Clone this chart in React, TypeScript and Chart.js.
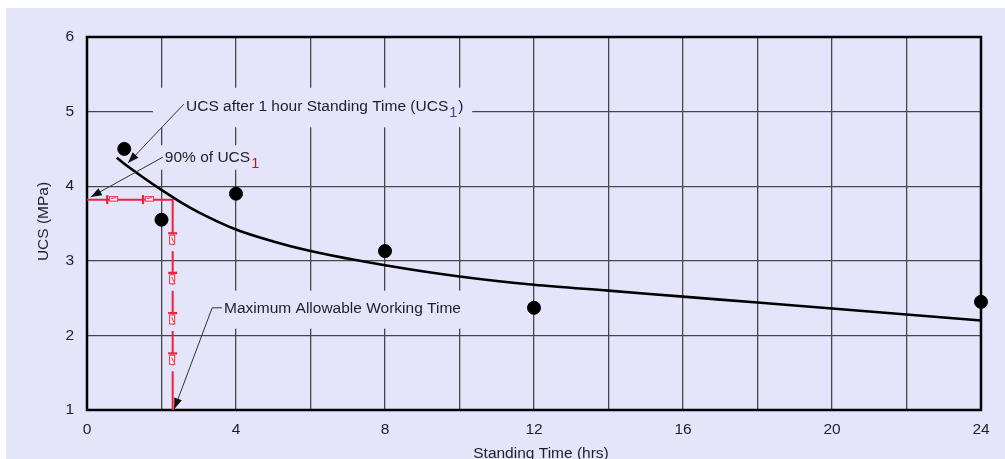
import React, { useEffect, useRef } from 'react';
import { Chart, registerables } from 'chart.js';

Chart.register(...registerables);

// ---- data ----
const measuredHours = [1, 2, 4, 8, 12, 24];
const measuredUCS = [4.5, 3.55, 3.9, 3.13, 2.37, 2.45];

const fitHours = [0.8, 1, 1.5, 2, 2.5, 3, 4, 5, 6, 7, 8, 9, 10, 11, 12, 14, 16, 18, 20, 22, 24];
const fitUCS = [4.38, 4.3, 4.12, 3.95, 3.79, 3.65, 3.42, 3.26, 3.13, 3.03, 2.94, 2.86, 2.79, 2.73, 2.68, 2.6, 2.52, 2.44, 2.36, 2.28, 2.2];

const ucs90 = 3.82;
const maxWorkingTime = 2.3;
const guideHours = [0, maxWorkingTime, maxWorkingTime];
const guideUCS = [ucs90, ucs90, 1];
const guideMarkerHours = [0.54, 1.5];
const guideMarkerUCS = [3.37, 2.84, 2.3, 1.76];

const xTickLabels = ['0', '4', '8', '12', '16', '20', '24'];
const xTitle = 'Standing Time (hrs)';
const yTitle = 'UCS (MPa)';

const label1Text = 'UCS after 1 hour Standing Time (UCS';
const label2Text = '90% of UCS';
const label3Text = 'Maximum Allowable Working Time';
const subText = '1';

// ---- styles ----
const BG = '#e4e4fb';
const TEXT = '#1e1e2a';
const RED = '#f0203c';
const FONT_FAMILY = '"Liberation Sans", Arial, sans-serif';
const font = (s: number) => `${s}px ${FONT_FAMILY}`;

type Part = { t: string; sub?: boolean; color?: string };
type Ann = {
  parts: Part[];
  x: number;
  y: number;
  leader: number[][];
  box: number[];
};

const annotations: Ann[] = [
  {
    parts: [{ t: label1Text }, { t: subText, sub: true, color: '#2c4c9c' }, { t: ')' }],
    x: 2.66,
    y: 5.01,
    leader: [[2.6, 5.1], [1.1, 4.31]],
    box: [1.77, 10.34, 5.32, 4.79],
  },
  {
    parts: [{ t: label2Text }, { t: subText, sub: true, color: '#b01c1c' }],
    x: 2.09,
    y: 4.32,
    leader: [[2.04, 4.39], [0.1, 3.855]],
    box: [1.83, 4.38, 4.55, 4.22],
  },
  {
    parts: [{ t: label3Text }],
    x: 3.68,
    y: 2.3,
    leader: [[3.62, 2.37], [3.36, 2.37], [2.34, 1.01]],
    box: [3.44, 10.28, 2.6, 2.09],
  },
];

export default function App() {
  const ref = useRef<HTMLCanvasElement>(null);

  useEffect(() => {
    const canvas = ref.current;
    if (!canvas) return;

    const px = (chart: any, x: number, y: number) => [
      chart.scales.x.getPixelForValue(x),
      chart.scales.y.getPixelForValue(y),
    ];

    const drawArrow = (ctx: CanvasRenderingContext2D, pts: number[][]) => {
      ctx.beginPath();
      ctx.moveTo(pts[0][0], pts[0][1]);
      for (let i = 1; i < pts.length; i++) ctx.lineTo(pts[i][0], pts[i][1]);
      ctx.stroke();
      const [x1, y1] = pts[pts.length - 2];
      const [x2, y2] = pts[pts.length - 1];
      const ang = Math.atan2(y2 - y1, x2 - x1);
      const L = 11;
      const w = 4;
      ctx.beginPath();
      ctx.moveTo(x2, y2);
      ctx.lineTo(x2 - L * Math.cos(ang) + w * Math.sin(ang), y2 - L * Math.sin(ang) - w * Math.cos(ang));
      ctx.lineTo(x2 - L * Math.cos(ang) - w * Math.sin(ang), y2 - L * Math.sin(ang) + w * Math.cos(ang));
      ctx.closePath();
      ctx.fill();
    };

    const decor = {
      id: 'decor',
      beforeDatasetsDraw(chart: any) {
        const ctx: CanvasRenderingContext2D = chart.ctx;
        const a = chart.chartArea;
        ctx.save();
        ctx.fillStyle = BG;
        for (const an of annotations) {
          const [x1, y1] = px(chart, an.box[0], an.box[2]);
          const [x2, y2] = px(chart, an.box[1], an.box[3]);
          ctx.fillRect(x1, y1, x2 - x1, y2 - y1);
        }
        ctx.strokeStyle = '#000';
        ctx.lineWidth = 2.5;
        ctx.strokeRect(a.left, a.top, a.right - a.left, a.bottom - a.top);
        ctx.restore();
      },
      afterDatasetsDraw(chart: any) {
        const ctx: CanvasRenderingContext2D = chart.ctx;
        const a = chart.chartArea;
        ctx.save();

        // guide markers (horizontal run)
        for (const h of guideMarkerHours) {
          const [x, y] = px(chart, h, ucs90);
          ctx.fillStyle = RED;
          ctx.fillRect(x - 1, y - 4.5, 2.2, 9);
          ctx.fillStyle = '#fff';
          ctx.fillRect(x + 2, y - 3.5, 9, 5);
          ctx.strokeStyle = RED;
          ctx.lineWidth = 1;
          ctx.strokeRect(x + 2.5, y - 3, 8, 4.5);
          ctx.beginPath();
          ctx.moveTo(x + 4, y - 1);
          ctx.lineTo(x + 9, y - 2);
          ctx.stroke();
        }
        // guide markers (vertical run)
        for (const v of guideMarkerUCS) {
          const [x, y] = px(chart, maxWorkingTime, v);
          ctx.fillStyle = BG;
          ctx.fillRect(x - 2, y + 12, 4, 6);
          ctx.fillStyle = RED;
          ctx.fillRect(x - 4.5, y - 1, 9, 2.2);
          ctx.fillStyle = '#fff';
          ctx.fillRect(x - 3.5, y + 1.5, 6, 10);
          ctx.strokeStyle = RED;
          ctx.lineWidth = 1;
          ctx.strokeRect(x - 3, y + 2, 5, 9);
          ctx.beginPath();
          ctx.moveTo(x - 1, y + 4);
          ctx.lineTo(x + 1, y + 9);
          ctx.stroke();
        }

        // annotation labels
        for (const an of annotations) {
          const [tx, ty] = px(chart, an.x, an.y);
          let cx = tx;
          ctx.textBaseline = 'alphabetic';
          ctx.textAlign = 'left';
          for (const p of an.parts) {
            ctx.font = font(p.sub ? 14.5 : 15.5);
            ctx.fillStyle = p.color || TEXT;
            const dy = p.sub ? 6 : 0;
            ctx.fillText(p.t, cx + (p.sub ? 1 : 0), ty + dy);
            cx += ctx.measureText(p.t).width + (p.sub ? 2 : 0);
          }
          ctx.strokeStyle = '#333';
          ctx.fillStyle = '#111';
          ctx.lineWidth = 1;
          drawArrow(ctx, an.leader.map((q) => px(chart, q[0], q[1])));
        }

        // axis titles
        ctx.fillStyle = TEXT;
        ctx.font = font(15.5);
        ctx.textAlign = 'center';
        ctx.textBaseline = 'alphabetic';
        ctx.fillText(xTitle, (a.left + a.right) / 2 + 7, 450);
        ctx.save();
        ctx.translate(41.5, (a.top + a.bottom) / 2 - 2);
        ctx.rotate(-Math.PI / 2);
        ctx.fillText(yTitle, 0, 0);
        ctx.restore();

        ctx.restore();
      },
    };

    const chart = new Chart(canvas, {
      type: 'scatter',
      data: {
        datasets: [
          {
            label: 'Measured',
            data: measuredHours.map((h, i) => ({ x: h, y: measuredUCS[i] })),
            backgroundColor: '#000',
            borderColor: '#000',
            pointRadius: 6.5,
            pointHoverRadius: 6.5,
            clip: false as any,
            order: 0,
          },
          {
            label: 'Fit',
            type: 'line',
            data: fitHours.map((h, i) => ({ x: h, y: fitUCS[i] })),
            borderColor: '#000',
            borderWidth: 2.6,
            pointRadius: 0,
            fill: false,
            tension: 0.4,
            cubicInterpolationMode: 'monotone',
            order: 1,
          } as any,
          {
            label: 'Guide',
            type: 'line',
            data: guideHours.map((h, i) => ({ x: h, y: guideUCS[i] })),
            borderColor: RED,
            borderWidth: 2,
            pointRadius: 0,
            fill: false,
            tension: 0,
            order: 2,
          } as any,
        ],
      },
      options: {
        animation: false,
        responsive: false,
        devicePixelRatio: 1,
        events: [],
        layout: { padding: { top: 29, right: 24, left: 0, bottom: 0 } },
        plugins: {
          legend: { display: false },
          tooltip: { enabled: false },
          title: { display: false },
        },
        scales: {
          x: {
            type: 'linear',
            min: 0,
            max: 24,
            afterFit: (s: any) => {
              s.height = 68;
            },
            ticks: {
              stepSize: 2,
              padding: 10,
              color: TEXT,
              font: { family: FONT_FAMILY, size: 15.5 },
              maxRotation: 0,
              autoSkip: false,
              callback: (v: any) => {
                const idx = xTickLabels.indexOf(String(v));
                return idx >= 0 ? xTickLabels[idx] : '';
              },
            },
            grid: { color: '#474747', lineWidth: 1.3, drawTicks: false },
            border: { display: false },
          },
          y: {
            type: 'linear',
            min: 1,
            max: 6,
            afterFit: (s: any) => {
              s.width = 81;
            },
            ticks: {
              stepSize: 1,
              padding: 13,
              color: TEXT,
              font: { family: FONT_FAMILY, size: 15.5 },
            },
            grid: { color: '#474747', lineWidth: 1.3, drawTicks: false },
            border: { display: false },
          },
        },
      },
      plugins: [decor],
    } as any);

    return () => chart.destroy();
  }, []);

  return (
    <div
      style={{
        position: 'fixed',
        left: 6,
        top: 8,
        width: 999,
        height: 451,
        background: BG,
        overflow: 'hidden',
      }}
    >
      <canvas ref={ref} width={999} height={470} style={{ display: 'block', width: 999, height: 470 }} />
    </div>
  );
}
